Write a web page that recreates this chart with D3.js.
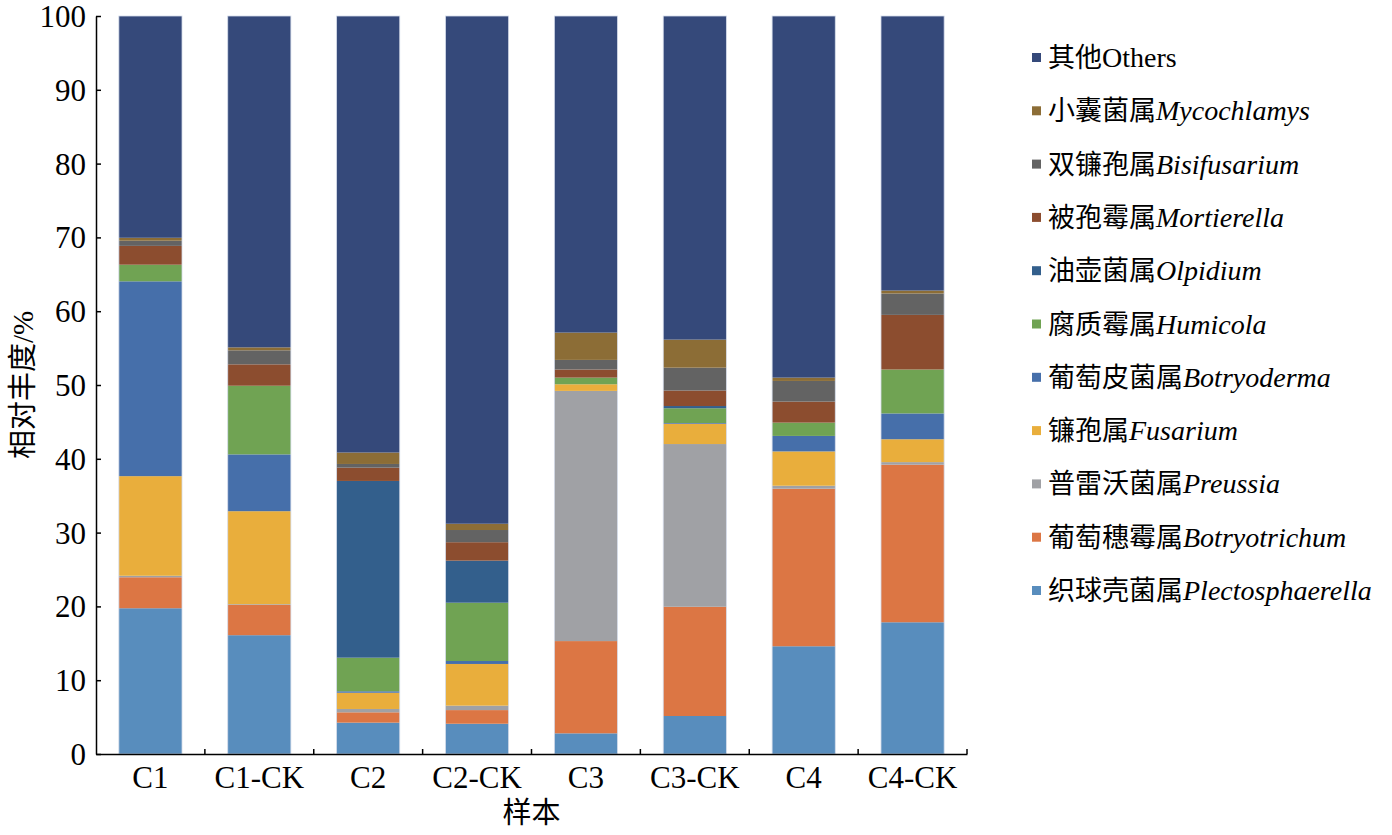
<!DOCTYPE html>
<html>
<head>
<meta charset="utf-8">
<script src="https://cdn.jsdelivr.net/npm/d3@7"></script>
<style>
  body { margin: 0; background: #fff; }
  text { font-family: "Liberation Serif", "Noto Sans CJK SC", serif; fill: #000; }
</style>
</head>
<body>
<div id="chart"></div>
<script>
// samples on the x axis
var samples = ['C1', 'C1-CK', 'C2', 'C2-CK', 'C3', 'C3-CK', 'C4', 'C4-CK'];

// genera, bottom of the stack first
var genusCn = ['织球壳菌属', '葡萄穗霉属', '普雷沃菌属', '镰孢属', '葡萄皮菌属', '腐质霉属', '油壶菌属', '被孢霉属', '双镰孢属', '小囊菌属', '其他'];
var genusLatin = ['Plectosphaerella', 'Botryotrichum', 'Preussia', 'Fusarium', 'Botryoderma', 'Humicola', 'Olpidium', 'Mortierella', 'Bisifusarium', 'Mycochlamys', 'Others'];
var genusColor = ['#588dbd', '#dc7644', '#a0a1a5', '#e9ae3c', '#466faa', '#70a353', '#335f8c', '#8c4d2f', '#636363', '#8c6d36', '#35497a'];

// relative abundance (%) per genus, in sample order
var plectosphaerella = [19.75, 16.1, 4.25, 4.1, 2.8, 5.15, 14.6, 17.85];
var botryotrichum    = [4.2, 4.1, 1.4, 1.85, 12.5, 14.8, 21.35, 21.35];
var preussia         = [0.2, 0.1, 0.45, 0.6, 33.9, 22.05, 0.4, 0.35];
var fusarium         = [13.5, 12.6, 2.2, 5.65, 0.9, 2.75, 4.65, 3.1];
var botryoderma      = [26.4, 7.7, 0.2, 0.4, 0, 0.1, 2.1, 3.5];
var humicola         = [2.25, 9.3, 4.55, 7.9, 0.9, 2.0, 1.8, 5.95];
var olpidium         = [0, 0, 23.95, 5.7, 0, 0.3, 0, 0];
var mortierella      = [2.55, 2.9, 1.8, 2.5, 1.1, 2.1, 2.85, 7.4];
var bisifusarium     = [0.7, 1.9, 0.5, 1.65, 1.3, 3.1, 2.8, 2.9];
var mycochlamys      = [0.4, 0.4, 1.55, 0.85, 3.7, 3.8, 0.45, 0.4];
var others           = [30.05, 44.9, 59.15, 68.8, 42.9, 43.85, 49.0, 37.2];

var yTicks = [0, 10, 20, 30, 40, 50, 60, 70, 80, 90, 100];

var series = [plectosphaerella, botryotrichum, preussia, fusarium, botryoderma, humicola, olpidium, mortierella, bisifusarium, mycochlamys, others];

var rows = samples.map(function(s, i) {
    var r = {sample: s};
    genusLatin.forEach(function(g, j) { r[g] = series[j][i]; });
    return r;
});

var width = 1392, height = 835;
var plotLeft = 96, plotRight = 967, plotTop = 16, plotBottom = 754;

var svg = d3.select('#chart').append('svg')
    .attr('width', width)
    .attr('height', height);

var x = d3.scaleBand().domain(samples).range([plotLeft, plotRight]).paddingInner(0.42).paddingOuter(0.21);
var y = d3.scaleLinear().domain([0, 100]).range([plotBottom, plotTop]);

var stacked = d3.stack().keys(genusLatin)(rows);

// ------------------------- bars -------------------------
svg.append('g')
    .selectAll('g')
    .data(stacked)
    .join('g')
    .attr('fill', function(d, i) { return genusColor[i]; })
    .selectAll('rect')
    .data(function(d) { return d; })
    .join('rect')
    .attr('x', function(d) { return x(d.data.sample); })
    .attr('y', function(d) { return y(d[1]); })
    .attr('width', x.bandwidth())
    .attr('height', function(d) { return Math.max(0, y(d[0]) - y(d[1])); });

// thin light edge round each bar
svg.append('g')
    .selectAll('rect')
    .data(samples)
    .join('rect')
    .attr('x', function(d) { return x(d); })
    .attr('y', y(100))
    .attr('width', x.bandwidth())
    .attr('height', y(0) - y(100))
    .attr('fill', 'none')
    .attr('stroke', '#d5dcea')
    .attr('stroke-width', 0.8);

// ------------------------- axes -------------------------
var yAxis = svg.append('g')
    .attr('transform', 'translate(' + plotLeft + ',0)')
    .call(d3.axisLeft(y).tickValues(yTicks).tickSizeInner(-5).tickSizeOuter(0).tickPadding(10));
yAxis.select('.domain').attr('stroke', '#000').attr('stroke-width', 1.5);
yAxis.selectAll('.tick line').attr('stroke', '#000').attr('stroke-width', 1.5);
yAxis.selectAll('.tick text')
    .style('font-size', '31px')
    .style('font-family', '"Liberation Serif", serif')
    .attr('dy', '0.34em');

var xAxis = svg.append('g')
    .attr('transform', 'translate(0,' + plotBottom + ')')
    .call(d3.axisBottom(x).tickSize(0).tickPadding(10));
xAxis.select('.domain').attr('stroke', '#000').attr('stroke-width', 1.5);
xAxis.selectAll('.tick text')
    .style('font-size', '31px')
    .style('font-family', '"Liberation Serif", serif')
    .attr('dy', '0.78em');

// category separator ticks pointing into the plot
var step = x.step();
var sepPos = d3.range(samples.length + 1).map(function(i) { return plotLeft + i * step; });
svg.append('g')
    .selectAll('line')
    .data(sepPos.slice(1))
    .join('line')
    .attr('x1', function(d) { return d; })
    .attr('x2', function(d) { return d; })
    .attr('y1', plotBottom)
    .attr('y2', plotBottom - 5)
    .attr('stroke', '#000')
    .attr('stroke-width', 1.5);

// axis titles
svg.append('text')
    .attr('transform', 'translate(33,' + ((plotTop + plotBottom) / 2) + ') rotate(-90)')
    .attr('text-anchor', 'middle')
    .style('font-size', '29px')
    .text('相对丰度/%');

svg.append('text')
    .attr('x', (plotLeft + plotRight) / 2)
    .attr('y', 823)
    .attr('text-anchor', 'middle')
    .style('font-size', '29px')
    .text('样本');

// ------------------------- legend -------------------------
var legendOrder = d3.range(genusLatin.length).reverse();
var legend = svg.append('g')
    .selectAll('g')
    .data(legendOrder)
    .join('g')
    .attr('transform', function(d, i) { return 'translate(1032,' + (57 + i * 53.3) + ')'; });

legend.append('rect')
    .attr('x', 0)
    .attr('y', -4)
    .attr('width', 9)
    .attr('height', 9)
    .attr('fill', function(d) { return genusColor[d]; });

var lt = legend.append('text')
    .attr('x', 16)
    .attr('y', 10)
    .style('font-size', '28px');
lt.append('tspan')
    .style('font-family', '"Noto Sans CJK SC", sans-serif')
    .style('font-size', '27px')
    .text(function(d) { return genusCn[d]; });
lt.append('tspan')
    .style('font-style', function(d) { return genusLatin[d] == 'Others' ? 'normal' : 'italic'; })
    .text(function(d) { return genusLatin[d]; });
</script>
</body>
</html>
